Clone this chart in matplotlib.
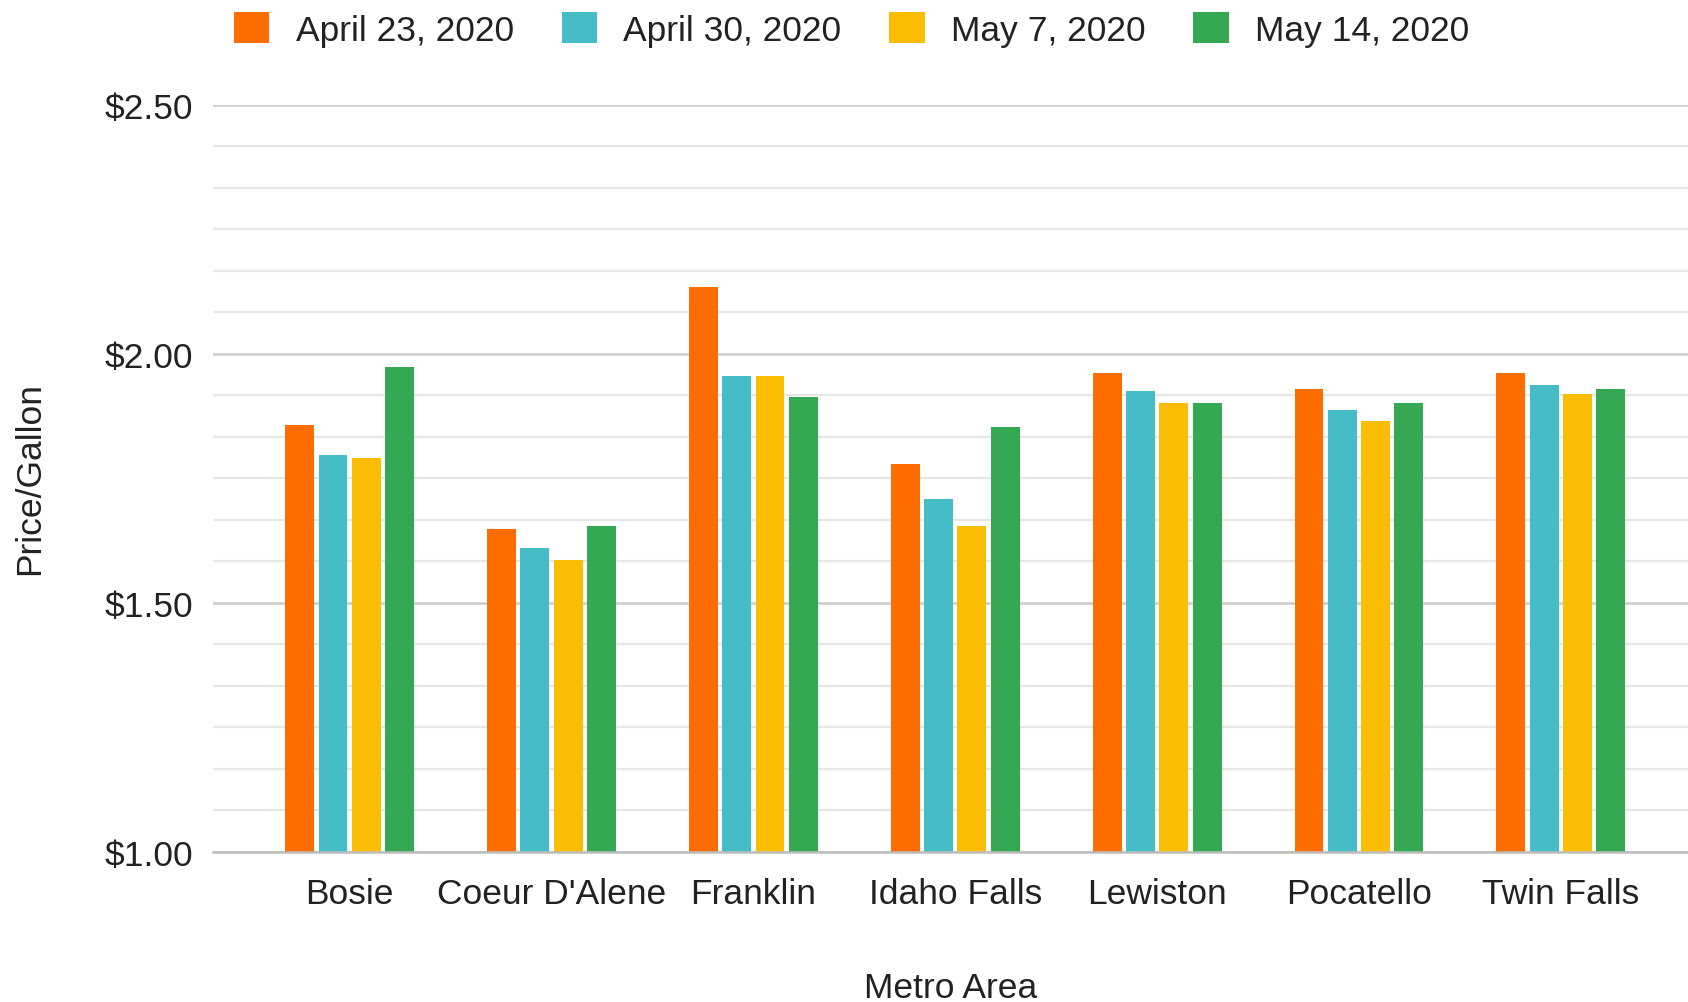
"""Gas price per gallon by Idaho metro area, four weekly snapshots."""
import numpy as np
import matplotlib.pyplot as plt
from matplotlib.patches import Patch
from matplotlib.ticker import FixedLocator, FuncFormatter

plt.rcParams['font.family'] = ['Liberation Sans', 'DejaVu Sans']

# data
metros = ['Bosie', "Coeur D'Alene", 'Franklin', 'Idaho Falls',
          'Lewiston', 'Pocatello', 'Twin Falls']
dates = ['April 23, 2020', 'April 30, 2020', 'May 7, 2020', 'May 14, 2020']
apr23 = [1.857, 1.647, 2.134, 1.779, 1.961, 1.929, 1.961]
apr30 = [1.797, 1.610, 1.954, 1.708, 1.924, 1.887, 1.936]
may07 = [1.791, 1.586, 1.954, 1.653, 1.900, 1.864, 1.918]
may14 = [1.972, 1.653, 1.912, 1.852, 1.900, 1.900, 1.929]
colors = ['#ff6d01', '#46bdc6', '#fbbc04', '#34a853']

text_color = '#222222'
fs = 25.5
fig = plt.figure(figsize=(16.88, 10.03), dpi=100)
ax = fig.add_axes([0.1262, 0.15, 0.8738, 0.7448])

x = np.arange(len(metros))
step = 0.165
width = 0.143
series = [apr23, apr30, may07, may14]
for i, (vals, color) in enumerate(zip(series, colors)):
    offset = (i - 1.5) * step
    ax.bar(x + offset, np.array(vals) - 1.0, width=width, bottom=1.0,
           color=color, zorder=3)

ax.set_xlim(-0.677, 6.63)
ax.set_ylim(1.0, 2.5)

# major ticks every 50 cents, light minor lines in between
ax.yaxis.set_major_locator(FixedLocator([1.0, 1.5, 2.0, 2.5]))
ax.yaxis.set_minor_locator(FixedLocator(np.linspace(1.0, 2.5, 19)))
ax.yaxis.set_major_formatter(FuncFormatter(lambda v, _: f'${v:.2f}'))
ax.grid(axis='y', which='minor', color='#e6e6e6', linewidth=1.6, zorder=0)
ax.grid(axis='y', which='major', color='#cccccc', linewidth=1.8, zorder=1)

ax.set_xticks(x)
ax.set_xticklabels(metros)
ax.tick_params(axis='both', which='both', length=0, labelsize=fs,
               colors=text_color)
ax.tick_params(axis='y', pad=14)
ax.tick_params(axis='x', pad=18)

for side in ['top', 'right', 'left']:
    ax.spines[side].set_visible(False)
ax.spines['bottom'].set_color('#bdbdbd')
ax.spines['bottom'].set_linewidth(1.8)
ax.spines['bottom'].set_zorder(4)

ax.set_xlabel('Metro Area', fontsize=fs, color=text_color, labelpad=44)
ax.set_ylabel('Price/Gallon', fontsize=fs, color=text_color, labelpad=42)

handles = [Patch(facecolor=c, edgecolor='none') for c in colors]
fig.legend(handles, dates, loc='center', bbox_to_anchor=(0.5045, 0.970),
           ncol=4, frameon=False, fontsize=fs, handlelength=1.0,
           handleheight=1.0, handletextpad=0.74, columnspacing=1.35,
           labelcolor=text_color)

plt.savefig('out.png', dpi=100)
plt.close()
